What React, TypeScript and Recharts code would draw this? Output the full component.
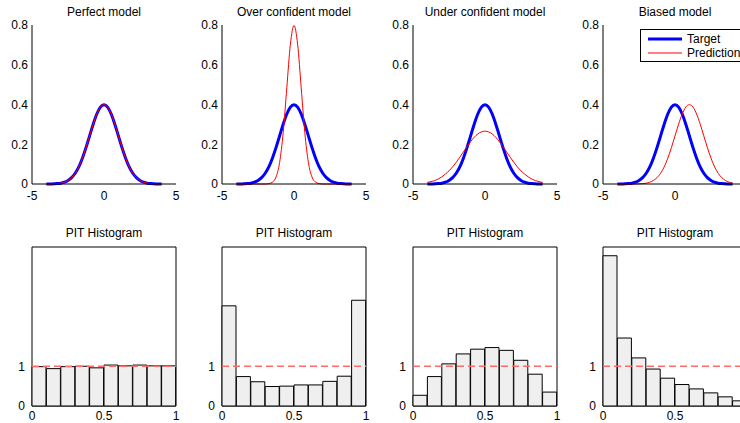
import {
  Bar,
  BarChart,
  Legend,
  Line,
  LineChart,
  ReferenceArea,
  ReferenceLine,
  XAxis,
  YAxis,
} from 'recharts'

const FONT = '"Liberation Sans", Arial, Helvetica, sans-serif'

// density curves, sampled on x = -4 .. 4
const gridX = [
  -4, -3.75, -3.5, -3.25, -3, -2.75, -2.5, -2.25, -2, -1.75, -1.5, -1.25, -1, -0.75, -0.5, -0.25, 0,
  0.25, 0.5, 0.75, 1, 1.25, 1.5, 1.75, 2, 2.25, 2.5, 2.75, 3, 3.25, 3.5, 3.75, 4,
]
const targetPdf = [
  0, 0, 0.001, 0.002, 0.004, 0.009, 0.018, 0.032, 0.054, 0.086, 0.13, 0.183, 0.242, 0.301, 0.352, 0.387, 0.399,
  0.387, 0.352, 0.301, 0.242, 0.183, 0.13, 0.086, 0.054, 0.032, 0.018, 0.009, 0.004, 0.002, 0.001, 0, 0,
]
const perfectPdf = [
  0, 0, 0.001, 0.002, 0.004, 0.009, 0.018, 0.032, 0.054, 0.086, 0.13, 0.183, 0.242, 0.301, 0.352, 0.387, 0.399,
  0.387, 0.352, 0.301, 0.242, 0.183, 0.13, 0.086, 0.054, 0.032, 0.018, 0.009, 0.004, 0.002, 0.001, 0, 0,
]
const overPdf = [
  0, 0, 0, 0, 0, 0, 0, 0, 0, 0.002, 0.009, 0.035, 0.108, 0.259, 0.484, 0.704, 0.798,
  0.704, 0.484, 0.259, 0.108, 0.035, 0.009, 0.002, 0, 0, 0, 0, 0, 0, 0, 0, 0,
]
const underPdf = [
  0.008, 0.012, 0.017, 0.025, 0.036, 0.05, 0.066, 0.086, 0.109, 0.135, 0.161, 0.188, 0.213, 0.235, 0.252, 0.262, 0.266,
  0.262, 0.252, 0.235, 0.213, 0.188, 0.161, 0.135, 0.109, 0.086, 0.066, 0.05, 0.036, 0.025, 0.017, 0.012, 0.008,
]
const biasedPdf = [
  0, 0, 0, 0, 0, 0, 0.001, 0.002, 0.004, 0.009, 0.018, 0.032, 0.054, 0.086, 0.13, 0.183, 0.242,
  0.301, 0.352, 0.387, 0.399, 0.387, 0.352, 0.301, 0.242, 0.183, 0.13, 0.086, 0.054, 0.032, 0.018, 0.009, 0.004,
]

// PIT histograms, 10 bins on [0, 1]
const binCenters = [0.05, 0.15, 0.25, 0.35, 0.45, 0.55, 0.65, 0.75, 0.85, 0.95]
const perfectPit = [0.99, 0.94, 0.99, 1.0, 0.96, 1.03, 1.01, 1.03, 1.01, 1.01]
const overPit = [2.52, 0.74, 0.61, 0.49, 0.5, 0.53, 0.53, 0.62, 0.75, 2.66]
const underPit = [0.27, 0.74, 1.06, 1.31, 1.43, 1.47, 1.4, 1.15, 0.8, 0.35]
const biasedPit = [3.78, 1.71, 1.21, 0.93, 0.7, 0.54, 0.43, 0.33, 0.23, 0.13]

const densityTicksX = [-5, 0, 5]
const densityTicksY = [0, 0.2, 0.4, 0.6, 0.8]
const pitTicksX = [0, 0.5, 1]
const pitTicksY = [0, 1]

const modelTitles = ['Perfect model', 'Over confident model', 'Under confident model', 'Biased model']
const predictions = [perfectPdf, overPdf, underPdf, biasedPdf]
const pits = [perfectPit, overPit, underPit, biasedPit]
const legendOrder = ['target', 'prediction']

const plotLefts = [32, 222, 413, 603]
const tickStyle = { fill: '#000', fontSize: 12, fontFamily: FONT }

function Title({ left, top, text }: { left: number; top: number; text: string }) {
  return (
    <div
      style={{
        position: 'absolute',
        left,
        top,
        width: 144,
        textAlign: 'center',
        fontSize: 12,
        lineHeight: '12px',
        whiteSpace: 'nowrap',
        color: '#000',
      }}
    >
      {text}
    </div>
  )
}

function MatlabLegend(props: any) {
  const payload = [...(props.payload ?? [])].sort(
    (a: any, b: any) => legendOrder.indexOf(a.dataKey) - legendOrder.indexOf(b.dataKey),
  )
  return (
    <div
      style={{
        border: '1px solid #000',
        background: '#fff',
        padding: '2px 0 1px 7px',
        width: 110,
        fontFamily: FONT,
        fontSize: 12,
      }}
    >
      {payload.map((entry: any) => (
        <div key={entry.value} style={{ display: 'flex', alignItems: 'center', height: 14 }}>
          <svg width={34} height={6} style={{ marginRight: 5 }}>
            <line
              x1={0}
              x2={34}
              y1={3}
              y2={3}
              stroke={entry.color}
              strokeWidth={entry.dataKey === 'target' ? 3 : 1}
            />
          </svg>
          <span style={{ color: '#000' }}>{entry.value}</span>
        </div>
      ))}
    </div>
  )
}

function DensityPanel({ index }: { index: number }) {
  const pred = predictions[index]
  const data = gridX.map((x, i) => ({ x, target: targetPdf[i], prediction: pred[i] }))
  const left = plotLefts[index]
  return (
    <>
      <Title left={left} top={6} text={modelTitles[index]} />
      <div style={{ position: 'absolute', left: left - 32, top: 0 }}>
        <LineChart width={190} height={210} data={data} margin={{ top: 25, right: 14, bottom: 6, left: 2 }}>
          <XAxis
            dataKey="x"
            type="number"
            domain={[-5, 5]}
            ticks={densityTicksX}
            height={20}
            tickLine={false}
            tickSize={0}
            tickMargin={7}
            axisLine={{ stroke: '#000' }}
            tick={tickStyle}
          />
          <YAxis
            domain={[0, 0.8]}
            ticks={densityTicksY}
            width={30}
            tickLine={false}
            tickSize={0}
            tickMargin={4}
            axisLine={{ stroke: '#000' }}
            tick={tickStyle}
          />
          <Line
            type="monotone"
            dataKey="target"
            name="Target"
            stroke="#0000ff"
            strokeWidth={3}
            dot={false}
            isAnimationActive={false}
          />
          <Line
            type="monotone"
            dataKey="prediction"
            name="Prediction"
            stroke="#ff0000"
            strokeWidth={1}
            dot={false}
            isAnimationActive={false}
          />
          {index === 3 && (
            <Legend
              layout="horizontal"
              verticalAlign="middle"
              align="center"
              content={MatlabLegend}
              wrapperStyle={{ left: 69, top: 29, width: 120 }}
            />
          )}
        </LineChart>
      </div>
    </>
  )
}

function PitPanel({ index }: { index: number }) {
  const values = pits[index]
  const data = binCenters.map((center, i) => ({ bin: center, center, density: values[i] }))
  const left = plotLefts[index]
  return (
    <>
      <Title left={left} top={227} text="PIT Histogram" />
      <div style={{ position: 'absolute', left: left - 32, top: 215 }}>
        <BarChart
          width={190}
          height={208}
          data={data}
          margin={{ top: 32, right: 14, bottom: 0, left: 2 }}
          barCategoryGap={0}
        >
          <XAxis xAxisId="cat" dataKey="bin" hide height={0} />
          <XAxis
            xAxisId="num"
            dataKey="center"
            type="number"
            domain={[0, 1]}
            ticks={pitTicksX}
            height={17}
            tickLine={false}
            tickSize={0}
            tickMargin={5}
            axisLine={false}
            tick={tickStyle}
          />
          <YAxis
            domain={[0, 4]}
            ticks={pitTicksY}
            width={30}
            tickLine={false}
            tickSize={0}
            tickMargin={7}
            axisLine={false}
            tick={tickStyle}
          />
          <Bar xAxisId="cat" dataKey="density" fill="#efefef" stroke="#000" strokeWidth={1} isAnimationActive={false} />
          <ReferenceArea xAxisId="num" x1={0} x2={1} y1={0} y2={4} fill="none" stroke="#000" strokeWidth={1} />
          <ReferenceLine xAxisId="num" y={1} stroke="#ff6a6a" strokeWidth={1.5} strokeDasharray="7 4" />
        </BarChart>
      </div>
    </>
  )
}

export default function App() {
  return (
    <div
      style={{
        position: 'absolute',
        left: 0,
        top: 0,
        width: 740,
        height: 423,
        overflow: 'hidden',
        background: '#fff',
        fontFamily: FONT,
      }}
    >
      {[0, 1, 2, 3].map((i) => (
        <DensityPanel key={`d${i}`} index={i} />
      ))}
      {[0, 1, 2, 3].map((i) => (
        <PitPanel key={`p${i}`} index={i} />
      ))}
    </div>
  )
}
